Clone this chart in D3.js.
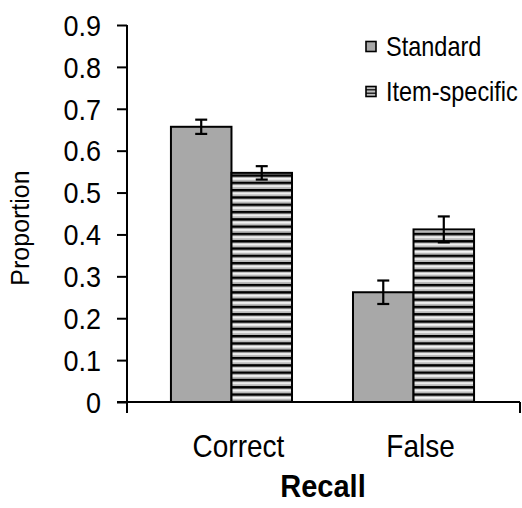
<!DOCTYPE html>
<html>
<head>
<meta charset="utf-8">
<script src="https://cdn.jsdelivr.net/npm/d3@7"></script>
<style>
  html, body { margin: 0; padding: 0; background: #fff; }
  svg { display: block; font-family: "Liberation Sans", Arial, sans-serif; }
</style>
</head>
<body>
<svg id="chart" width="522" height="508"></svg>
<script>
const categories = ["Correct", "False"];
const seriesNames = ["Standard", "Item-specific"];
const standardValues = [0.657, 0.262];
const itemSpecificValues = [0.547, 0.412];
const standardErrors = [0.017, 0.028];
const itemSpecificErrors = [0.016, 0.031];
const yTickValues = [0, 0.1, 0.2, 0.3, 0.4, 0.5, 0.6, 0.7, 0.8, 0.9];
const yAxisTitle = "Proportion";
const xAxisTitle = "Recall";

const svg = d3.select("#chart");
const axisX = 127;

const y = d3.scaleLinear().domain([0, 0.9]).range([402, 25]);
const x0 = d3.scaleBand().domain(categories).range([140, 505])
  .paddingInner(0.335).paddingOuter(0.17);
const x1 = d3.scaleBand().domain(seriesNames).range([0, x0.bandwidth()]).padding(0);

// stripe pattern
const defs = svg.append("defs");
const pat = defs.append("pattern")
  .attr("id", "stripes")
  .attr("patternUnits", "userSpaceOnUse")
  .attr("x", 0).attr("y", y(0) - 1.3)
  .attr("width", 20).attr("height", 7.3);
pat.append("rect").attr("width", 20).attr("height", 7.3).attr("fill", "#b8b8b8");
pat.append("rect").attr("y", 3.5).attr("width", 20).attr("height", 1.8).attr("fill", "#f4f4f4");
pat.append("rect").attr("y", 0).attr("width", 20).attr("height", 2.4).attr("fill", "#000");

const fills = { "Standard": "#a8a8a8", "Item-specific": "url(#stripes)" };

const rows = categories.map((c, i) => ({
  cat: c,
  vals: [
    { s: "Standard", v: standardValues[i], e: standardErrors[i] },
    { s: "Item-specific", v: itemSpecificValues[i], e: itemSpecificErrors[i] }
  ]
}));

const groups = svg.append("g").selectAll("g").data(rows).join("g")
  .attr("transform", d => `translate(${x0(d.cat)},0)`);

groups.selectAll("rect").data(d => d.vals).join("rect")
  .attr("x", d => x1(d.s))
  .attr("y", d => y(d.v))
  .attr("width", x1.bandwidth())
  .attr("height", d => y(0) - y(d.v))
  .attr("fill", d => fills[d.s])
  .attr("stroke", "#000")
  .attr("stroke-width", 2);

// error bars
const eb = groups.selectAll("g.err").data(d => d.vals).join("g").attr("class", "err")
  .attr("stroke", "#000").attr("stroke-width", 2.2);
eb.append("line")
  .attr("x1", d => x1(d.s) + x1.bandwidth() / 2)
  .attr("x2", d => x1(d.s) + x1.bandwidth() / 2)
  .attr("y1", d => y(d.v + d.e)).attr("y2", d => y(d.v - d.e));
eb.append("line")
  .attr("x1", d => x1(d.s) + x1.bandwidth() / 2 - 6)
  .attr("x2", d => x1(d.s) + x1.bandwidth() / 2 + 6)
  .attr("y1", d => y(d.v + d.e)).attr("y2", d => y(d.v + d.e));
eb.append("line")
  .attr("x1", d => x1(d.s) + x1.bandwidth() / 2 - 6)
  .attr("x2", d => x1(d.s) + x1.bandwidth() / 2 + 6)
  .attr("y1", d => y(d.v - d.e)).attr("y2", d => y(d.v - d.e));

// y axis
const yAxis = svg.append("g").attr("transform", `translate(${axisX},0)`)
  .call(d3.axisLeft(y).tickValues(yTickValues).tickSize(10).tickPadding(16)
    .tickFormat(d => d === 0 ? "0" : d3.format(".1f")(d)));
yAxis.select(".domain").remove();
yAxis.selectAll(".tick line").attr("stroke", "#000").attr("stroke-width", 2);
yAxis.selectAll(".tick text")
  .attr("fill", "#000")
  .style("font-size", "27px")
  .style("font-family", "'Liberation Sans', Arial, sans-serif")
  .attr("dy", "0.34em")
  .attr("transform", "scale(1,1.12)");

// axis lines
const axes = svg.append("g").attr("stroke", "#000").attr("stroke-width", 2).attr("fill", "none");
axes.append("line").attr("x1", axisX).attr("x2", axisX).attr("y1", y(0.9)).attr("y2", y(0) + 11);
axes.append("line").attr("x1", axisX - 10).attr("x2", 520).attr("y1", y(0)).attr("y2", y(0));
axes.append("line").attr("x1", 520).attr("x2", 520).attr("y1", y(0)).attr("y2", y(0) + 11);

// category labels
svg.append("g").selectAll("g").data(categories).join("g")
  .attr("transform", d => `translate(${x0(d) + x0.bandwidth() / 2 + 7},456.5)`)
  .append("text")
  .attr("text-anchor", "middle")
  .attr("transform", "scale(1,1.15)")
  .style("font-size", "28px")
  .attr("fill", "#000")
  .text(d => d);

// x title
svg.append("g").attr("transform", "translate(323,497)")
  .append("text")
  .attr("text-anchor", "middle")
  .attr("transform", "scale(1,1.1)")
  .style("font-size", "29px").style("font-weight", "bold")
  .attr("fill", "#000")
  .text(xAxisTitle);

// y title
svg.append("g").attr("transform", "translate(29,228) rotate(-90)")
  .append("text")
  .attr("text-anchor", "middle")
  .style("font-size", "25px")
  .attr("fill", "#000")
  .text(yAxisTitle);

// legend
const legend = svg.append("g").selectAll("g").data(seriesNames).join("g")
  .attr("transform", (d, i) => `translate(366,${46.5 + i * 45})`);
legend.append("rect")
  .attr("x", 0).attr("y", -5).attr("width", 10).attr("height", 10)
  .attr("fill", d => d === "Standard" ? fills[d] : "#bdbdbd")
  .attr("stroke", "#000").attr("stroke-width", 1.6);
legend.filter(d => d !== "Standard").selectAll("line.st").data([-1.7, 1.7]).join("line")
  .attr("x1", 0).attr("x2", 10).attr("y1", d => d).attr("y2", d => d)
  .attr("stroke", "#000").attr("stroke-width", 1.2);
legend.append("g").attr("transform", "translate(20,9.5)")
  .append("text")
  .attr("transform", "scale(1,1.15)")
  .style("font-size", "23.5px")
  .attr("fill", "#000")
  .text(d => d);
</script>
</body>
</html>
